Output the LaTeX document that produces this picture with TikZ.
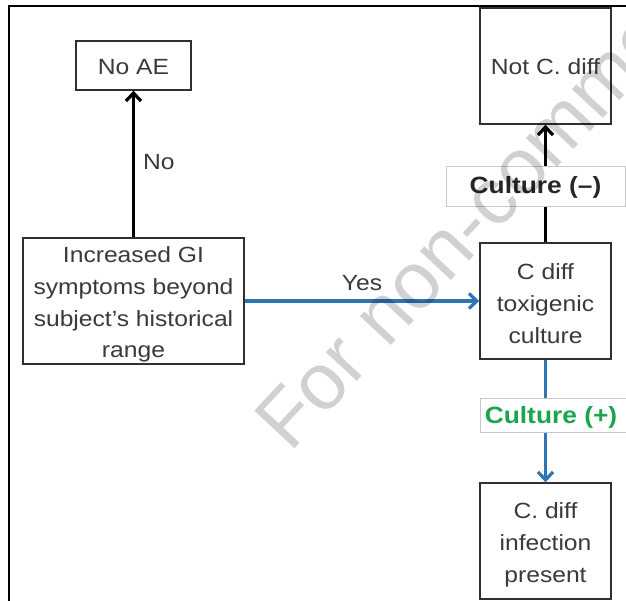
\documentclass[tikz,border=0pt]{standalone}
\usepackage{fontspec}
\setmainfont{Liberation Sans}[FakeStretch=1.12]
\newfontfamily\wmfont{Liberation Sans}
\usetikzlibrary{arrows.meta}
\definecolor{txt}{HTML}{3A3A3A}
\definecolor{bord}{HTML}{303030}
\definecolor{myblue}{HTML}{2E75B6}
\definecolor{mygreen}{HTML}{1BA54F}
\definecolor{lblbord}{HTML}{C8C8C8}
\begin{document}
\begin{tikzpicture}[x=1pt,y=-1pt,
  box/.style={draw=bord, line width=1.4pt, fill=white, inner sep=0pt},
  boxtext/.style={text=txt, align=center, font=\fontsize{22}{31.8}\selectfont, inner sep=0pt},
  lbl/.style={draw=lblbord, line width=0.8pt, fill=white,
    font=\fontsize{23.5}{28}\selectfont\bfseries, inner sep=0pt},
  arr/.style={line width=3.2pt, -{Straight Barb[length=8pt,width=15pt]}},
  plain/.style={text=txt, font=\fontsize{22}{26}\selectfont, inner sep=0pt},
]
\useasboundingbox (0,0) rectangle (626,601);
\clip (0,0) rectangle (626,601);
% outer frame
\draw[line width=1.8pt, black] (9,640) -- (9,6) -- (660,6);

% boxes
\node[box, minimum width=115pt, minimum height=49pt] (noae) at (133.5,65.5) {};
\node[boxtext] (noaetxt) at ([yshift=-1.5pt]noae.center) {No AE};
\node[box, minimum width=221pt, minimum height=126pt] (gi) at (133.5,301) {};
\node[boxtext] (gitxt) at ([yshift=-3.5pt]gi.center)
  {Increased GI\\ symptoms beyond\\ subject’s historical\\ range};
\node[box, minimum width=131pt, minimum height=116pt] (notc) at (545.5,66) {};
\node[boxtext] (notctxt) at ([yshift=-0.5pt]notc.center) {Not C. diff};
\node[box, minimum width=131pt, minimum height=116pt] (cdiff) at (545.5,301) {};
\node[boxtext] (cdifftxt) at ([yshift=-2.5pt]cdiff.center) {C diff\\ toxigenic\\ culture};
\node[box, minimum width=131pt, minimum height=116pt] (inf) at (545.5,541) {};
\node[boxtext] (inftxt) at ([yshift=-4pt]inf.center) {C. diff\\ infection\\ present};

% connectors
\draw[arr, black] (gi.north) -- (noae.south);
\node[plain, anchor=west] (nolbl) at (143,162) {No};
\draw[arr, myblue] (gi.east) -- (cdiff.west);
\node[plain] (yeslbl) at (362,283) {Yes};
\draw[arr, black] (cdiff.north) -- (notc.south);
\draw[arr, myblue] (cdiff.south) -- (inf.north);

% edge label boxes
\node[lbl, minimum width=179pt, minimum height=40pt] (cneg) at (535.5,186) {};
\node[text=black!85, font=\fontsize{23.5}{28}\selectfont\bfseries, inner sep=0pt] (cnegtxt) at ([yshift=-1pt]cneg.center) {Culture (–)};
\node[lbl, minimum width=146pt, minimum height=34pt] (cpos) at (553,415) {};
\node[text=mygreen, font=\fontsize{23.5}{28}\selectfont\bfseries, inner sep=0pt] (cpostxt) at ([yshift=-2pt,xshift=-2pt]cpos.center) {Culture (+)};

% watermark
\node[anchor=base west, rotate=47, text=black, opacity=0.18, inner sep=0pt,
  font=\wmfont\fontsize{80}{80}\selectfont] (wm) at (290,454) {For non-commercial use};
\end{tikzpicture}
\end{document}
